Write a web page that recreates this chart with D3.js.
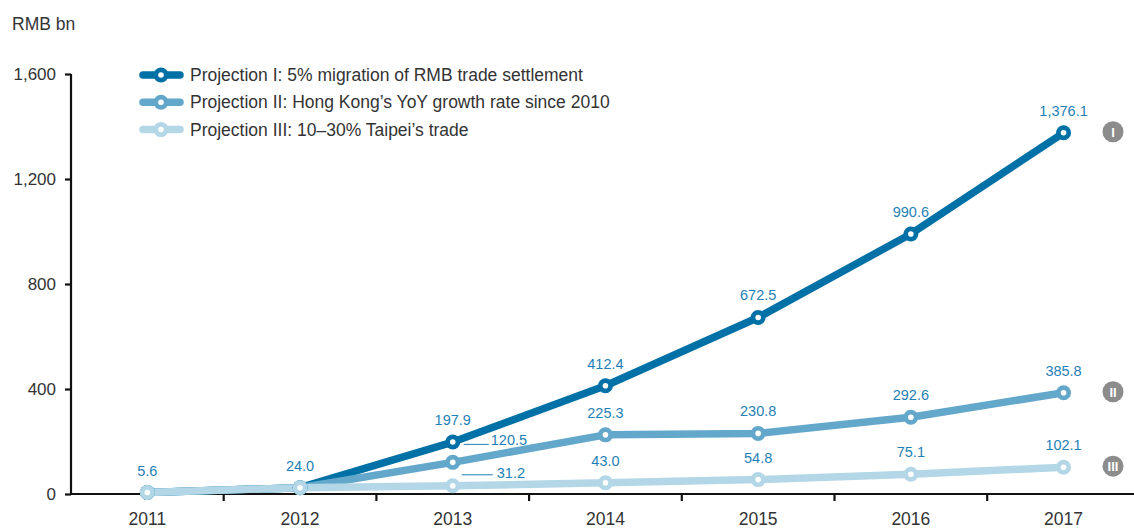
<!DOCTYPE html>
<html>
<head>
<meta charset="utf-8">
<script src="https://cdn.jsdelivr.net/npm/d3@7"></script>
<style>
  body { margin: 0; background: #fff; }
  svg { font-family: "Liberation Sans", Arial, sans-serif; }
</style>
</head>
<body>
<div id="chart"></div>
<script>
var years = ["2011", "2012", "2013", "2014", "2015", "2016", "2017"];
var projOne = [5.6, 24.0, 197.9, 412.4, 672.5, 990.6, 1376.1];
var projTwo = [5.6, 24.0, 120.5, 225.3, 230.8, 292.6, 385.8];
var projThree = [5.6, 24.0, 31.2, 43.0, 54.8, 75.1, 102.1];
var seriesNames = [
  "Projection I: 5% migration of RMB trade settlement",
  "Projection II: Hong Kong\u2019s YoY growth rate since 2010",
  "Projection III: 10\u201330% Taipei\u2019s trade"
];
var badges = ["I", "II", "III"];
var yTicks = [0, 400, 800, 1200, 1600];

var colors = ["#0071a6", "#63a8cb", "#b3d7e7"];
var labelColor = "#1f7fb6";

var width = 1134, height = 530;
var margin = { left: 71 };

var svg = d3.select("#chart").append("svg")
  .attr("width", width)
  .attr("height", height);

var x = d3.scaleBand().domain(years).range([margin.left, margin.left + 152.7 * 7]);
var y = d3.scaleLinear().domain([0, 1600]).range([494, 74]);

var cx = function(i) { return x(years[i]) + x.bandwidth() / 2; };

// y axis
var yAxis = svg.append("g")
  .attr("transform", "translate(" + margin.left + ",0)")
  .call(d3.axisLeft(y).tickValues(yTicks).tickSize(6).tickPadding(9).tickFormat(d3.format(",")));
yAxis.select(".domain").attr("d", "M0," + y(1600) + "V" + y(0)).attr("stroke", "#111").attr("stroke-width", 2.2);
yAxis.selectAll(".tick line").attr("stroke", "#111").attr("stroke-width", 2.2);
yAxis.selectAll(".tick text").attr("fill", "#333").style("font-size", "17px");

// x axis: ticks at band boundaries
var xAxisG = svg.append("g").attr("transform", "translate(0," + y(0) + ")");
xAxisG.append("line")
  .attr("x1", margin.left).attr("x2", width)
  .attr("stroke", "#111").attr("stroke-width", 2.2);
xAxisG.selectAll(".xt")
  .data(d3.range(1, 7))
  .enter().append("line")
  .attr("x1", function(d) { return margin.left + d * x.step(); })
  .attr("x2", function(d) { return margin.left + d * x.step(); })
  .attr("y1", 0).attr("y2", 7)
  .attr("stroke", "#111").attr("stroke-width", 2.2);
xAxisG.selectAll(".xl")
  .data(years)
  .enter().append("text")
  .attr("x", function(d, i) { return cx(i); })
  .attr("y", 31)
  .attr("text-anchor", "middle")
  .attr("fill", "#333")
  .style("font-size", "17.5px")
  .text(function(d) { return d; });

svg.append("text")
  .attr("x", 12).attr("y", 30)
  .attr("fill", "#333")
  .style("font-size", "17.5px")
  .text("RMB bn");

var allSeries = [projOne, projTwo, projThree];

var line = d3.line()
  .x(function(d, i) { return cx(i); })
  .y(function(d) { return y(d); });

allSeries.forEach(function(vals, s) {
  svg.append("path")
    .datum(vals)
    .attr("d", line)
    .attr("fill", "none")
    .attr("stroke", colors[s])
    .attr("stroke-width", 7.5)
    .attr("stroke-linejoin", "round");
});

allSeries.forEach(function(vals, s) {
  var g = svg.append("g");
  g.selectAll("circle.m")
    .data(vals)
    .enter().append("circle")
    .attr("cx", function(d, i) { return cx(i); })
    .attr("cy", function(d) { return y(d); })
    .attr("r", 7.5)
    .attr("fill", colors[s]);
  g.selectAll("circle.c")
    .data(vals)
    .enter().append("circle")
    .attr("cx", function(d, i) { return cx(i); })
    .attr("cy", function(d) { return y(d); })
    .attr("r", 2.8)
    .attr("fill", "#fff");
});

// value labels
var fmt = d3.format(",.1f");
allSeries.forEach(function(vals, s) {
  vals.forEach(function(v, i) {
    if (i < 2 && s > 0) return;
    if (i === 2 && s > 0) {
      // leader line labels for 2013
      var ly = s === 1 ? y(v) - 18 : y(v) - 11;
      var x1 = cx(i) + (s === 1 ? 11 : 9);
      var x2 = cx(i) + (s === 1 ? 36 : 40);
      svg.append("line")
        .attr("x1", x1).attr("x2", x2)
        .attr("y1", ly).attr("y2", ly)
        .attr("stroke", labelColor).attr("stroke-width", 1);
      svg.append("text")
        .attr("x", x2 + (s === 1 ? 2 : 4)).attr("y", s === 1 ? ly + 0.5 : ly + 3.5)
        .attr("fill", labelColor)
        .style("font-size", "14.5px")
        .text(fmt(v));
      return;
    }
    svg.append("text")
      .attr("x", cx(i))
      .attr("y", y(v) - 17)
      .attr("text-anchor", "middle")
      .attr("fill", labelColor)
      .style("font-size", "14.5px")
      .text(fmt(v));
  });
});

// roman badges
allSeries.forEach(function(vals, s) {
  var by = y(vals[vals.length - 1]);
  svg.append("circle")
    .attr("cx", 1113).attr("cy", by - 1)
    .attr("r", 10.5)
    .attr("fill", "#8c8c8c");
  svg.append("text")
    .attr("x", 1113).attr("y", by + 4)
    .attr("text-anchor", "middle")
    .attr("fill", "#fff")
    .style("font-size", "13px")
    .style("font-weight", "bold")
    .text(badges[s]);
});

// legend
var legend = svg.append("g");
seriesNames.forEach(function(name, s) {
  var ly = 75 + s * 27.3;
  legend.append("line")
    .attr("x1", 143).attr("x2", 180)
    .attr("y1", ly).attr("y2", ly)
    .attr("stroke", colors[s]).attr("stroke-width", 7.5)
    .attr("stroke-linecap", "round");
  legend.append("circle").attr("cx", 161).attr("cy", ly).attr("r", 7.5).attr("fill", colors[s]);
  legend.append("circle").attr("cx", 161).attr("cy", ly).attr("r", 2.8).attr("fill", "#fff");
  legend.append("text")
    .attr("x", 190).attr("y", ly + 6)
    .attr("fill", "#333")
    .style("font-size", "17.5px")
    .text(name);
});
</script>
</body>
</html>
